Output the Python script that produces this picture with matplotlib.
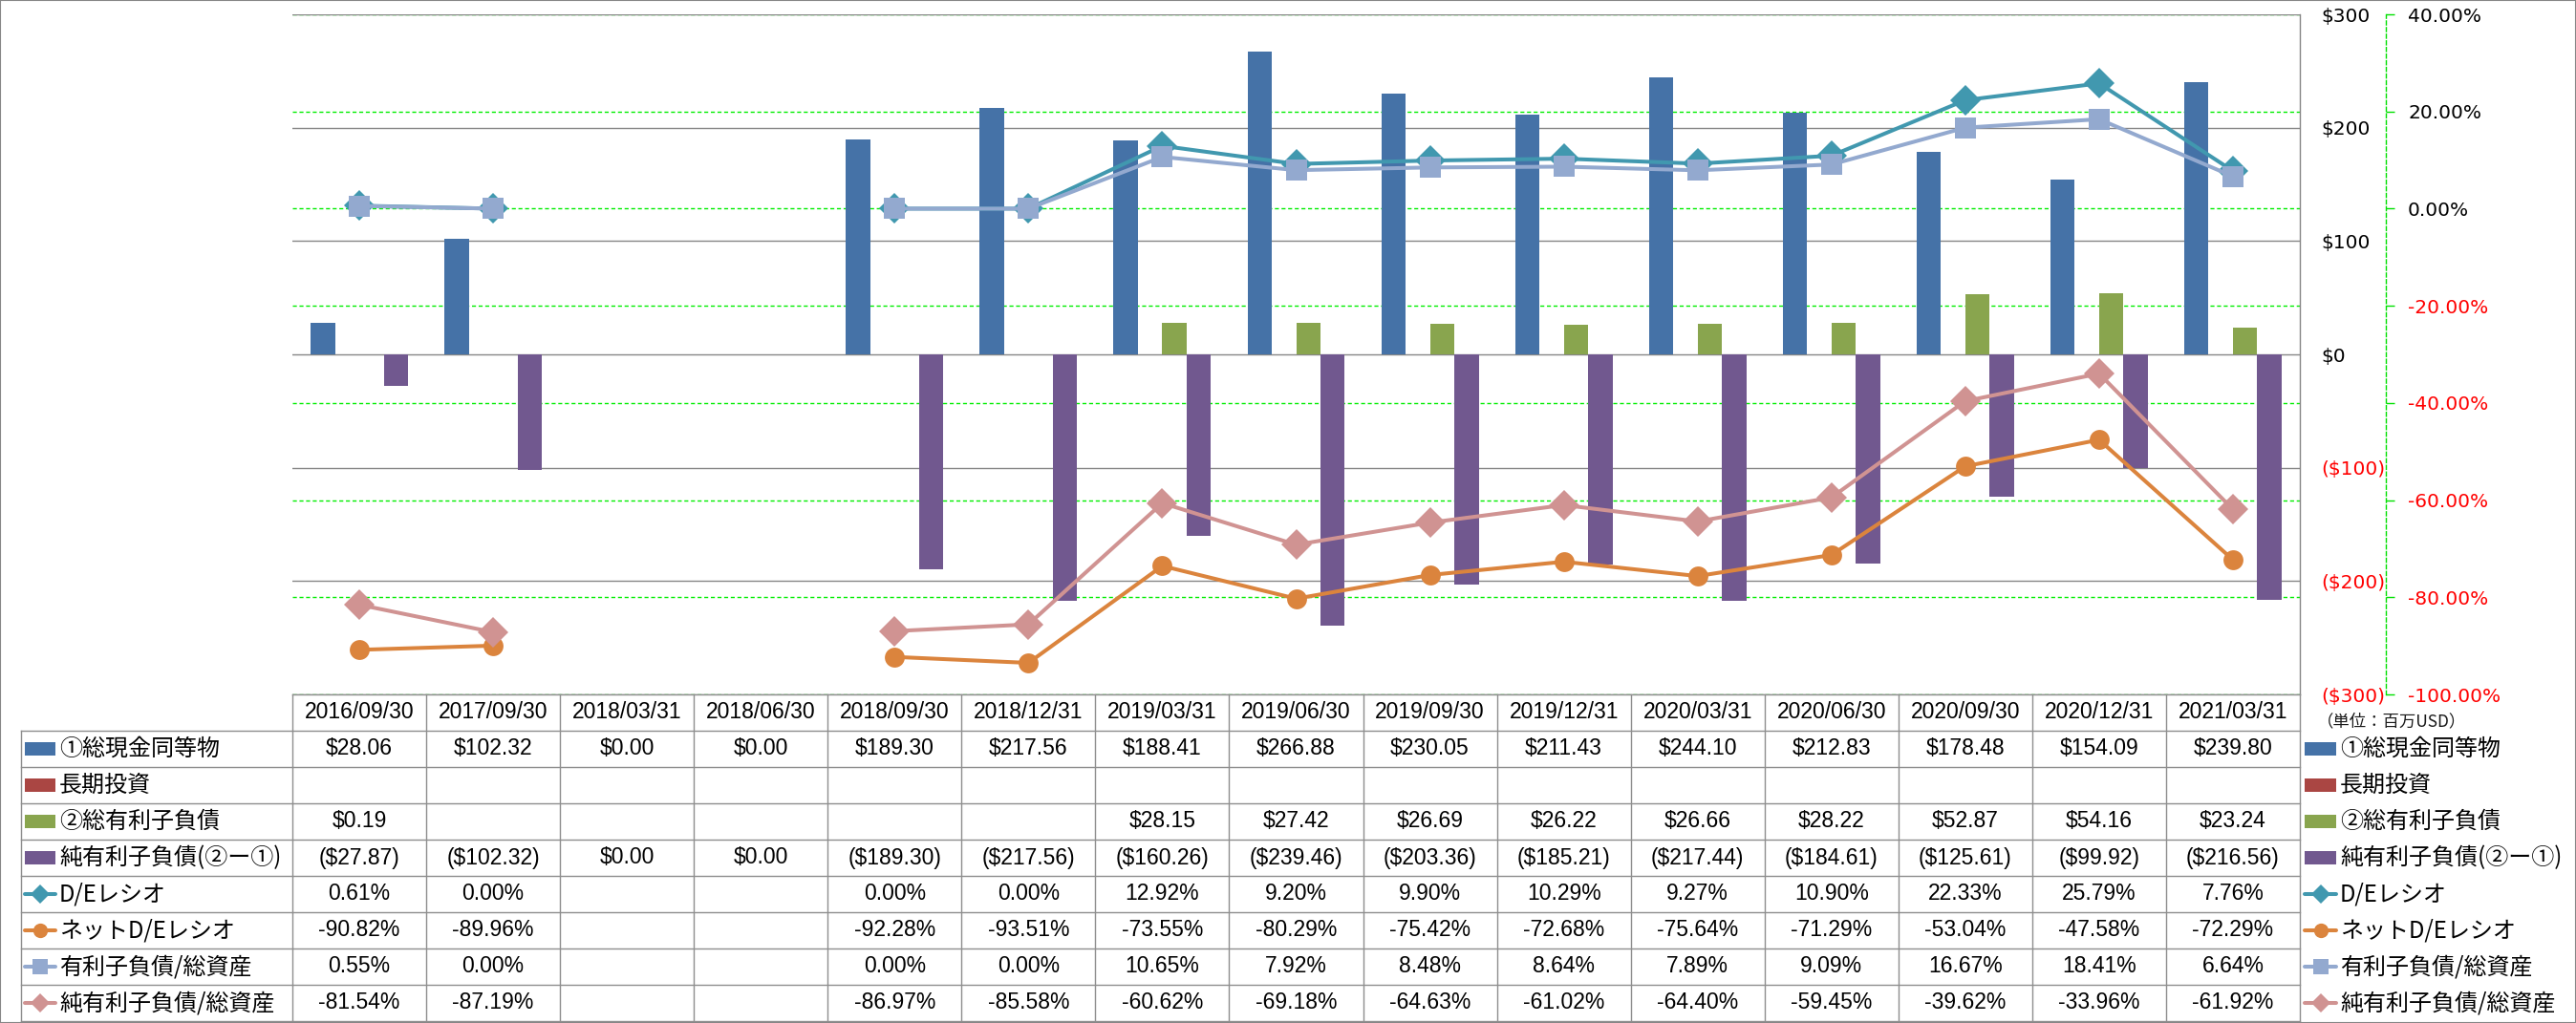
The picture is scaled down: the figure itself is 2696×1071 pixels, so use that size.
import matplotlib
matplotlib.use("Agg")
import matplotlib.pyplot as plt
import numpy as np
from matplotlib.transforms import blended_transform_factory
from matplotlib.patches import Rectangle
from matplotlib.lines import Line2D

# ---------------- data ----------------
dates = ['2016/09/30', '2017/09/30', '2018/03/31', '2018/06/30', '2018/09/30',
         '2018/12/31', '2019/03/31', '2019/06/30', '2019/09/30', '2019/12/31',
         '2020/03/31', '2020/06/30', '2020/09/30', '2020/12/31', '2021/03/31']

cash = [28.06, 102.32, 0.00, 0.00, 189.30, 217.56, 188.41, 266.88, 230.05,
        211.43, 244.10, 212.83, 178.48, 154.09, 239.80]
lt_invest = [None] * 15
debt = [0.19, None, None, None, None, None, 28.15, 27.42, 26.69, 26.22,
        26.66, 28.22, 52.87, 54.16, 23.24]
net_debt = [-27.87, -102.32, 0.00, 0.00, -189.30, -217.56, -160.26, -239.46,
            -203.36, -185.21, -217.44, -184.61, -125.61, -99.92, -216.56]

de_ratio = [0.61, 0.00, None, None, 0.00, 0.00, 12.92, 9.20, 9.90, 10.29,
            9.27, 10.90, 22.33, 25.79, 7.76]
net_de_ratio = [-90.82, -89.96, None, None, -92.28, -93.51, -73.55, -80.29,
                -75.42, -72.68, -75.64, -71.29, -53.04, -47.58, -72.29]
debt_assets = [0.55, 0.00, None, None, 0.00, 0.00, 10.65, 7.92, 8.48, 8.64,
               7.89, 9.09, 16.67, 18.41, 6.64]
net_debt_assets = [-81.54, -87.19, None, None, -86.97, -85.58, -60.62, -69.18,
                   -64.63, -61.02, -64.40, -59.45, -39.62, -33.96, -61.92]

bar_names = ['①総現金同等物', '長期投資', '②総有利子負債', '純有利子負債(②ー①)']
line_names = ['D/Eレシオ', 'ネットD/Eレシオ', '有利子負債/総資産', '純有利子負債/総資産']

usd_ticks = [300, 200, 100, 0, -100, -200, -300]
pct_ticks = [40, 20, 0, -20, -40, -60, -80, -100]
unit_label = '（単位：百万USD）'

# ---------------- styles ----------------
bar_colors = ['#4572A7', '#AA4643', '#89A54E', '#71588F']
line_colors = ['#4198AF', '#DB843D', '#93A9CF', '#D09392']
line_markers = ['D', 'o', 's', 'D']
line_ms = [16, 15, 16.5, 16]
key_ms = [10, 11, 12, 10]

W, H, DPI = 2696, 1071, 100
PT = 72.0 / DPI  # points per pixel

JP = ['Noto Sans CJK JP', 'DejaVu Sans']
NUM = ['Liberation Sans', 'Noto Sans CJK JP']
TICKF = 'DejaVu Sans'
TICK_FS = 14.5
LBL_FS = 17.3

def nz(v):
    return np.nan if v is None else v

def fmt_usd(v):
    if v is None:
        return ''
    return f'(${-v:,.2f})' if v < 0 else f'${v:,.2f}'

def fmt_pct(v):
    if v is None:
        return ''
    return f'{v:.2f}%'

def fmt_usd_tick(v):
    return f'(${-v})' if v < 0 else f'${v}'

fig = plt.figure(figsize=(W / DPI, H / DPI), dpi=DPI)
fig.patch.set_facecolor('white')

px_left, px_right, px_top, px_bot = 306, 2407, 15, 727
rect = [px_left / W, 1 - px_bot / H, (px_right - px_left) / W, (px_bot - px_top) / H]

ax = fig.add_axes(rect)
ax_g = ax.twinx()
ax2 = ax.twinx()
ax_g.set_zorder(0)
ax.set_zorder(1)
ax2.set_zorder(2)
ax.patch.set_visible(False)
ax2.patch.set_visible(False)
ax_g.patch.set_facecolor('white')

n = len(dates)
x = np.arange(n)
ax.set_xlim(-0.5, n - 0.5)

# spines first (setting spine position resets ticks)
for s in ['left', 'top', 'bottom']:
    ax.spines[s].set_visible(False)
    ax_g.spines[s].set_visible(False)
ax.spines['right'].set_color('#868686')
ax.spines['right'].set_linewidth(1.0)
ax_g.spines['right'].set_position(('outward', 90 * PT))
ax_g.spines['right'].set_color('#00E000')
ax_g.spines['right'].set_linestyle((0, (3, 2)))
ax_g.spines['right'].set_linewidth(1.0)
for s in ax2.spines.values():
    s.set_visible(False)

# ---------- primary axis (USD) ----------
ax.set_ylim(-300, 300)
ax.yaxis.tick_right()
ax.set_yticks(usd_ticks)
ax.set_yticklabels([fmt_usd_tick(v) for v in usd_ticks])
ax.tick_params(axis='y', which='both', left=False, labelleft=False, right=True,
               labelright=True, length=0, pad=22 * PT, labelsize=TICK_FS)
ax.set_xticks([])
ax.grid(axis='y', color='#868686', lw=1.0)
ax.set_axisbelow(True)

# ---------- bars ----------
bw = 0.182
series = [cash, lt_invest, debt, net_debt]
for k, (vals, c) in enumerate(zip(series, bar_colors)):
    v = np.array([nz(a) for a in vals], dtype=float)
    if np.all(np.isnan(v)):
        continue
    ax.bar(x + (k - 1.5) * bw, np.nan_to_num(v), bw, color=c, linewidth=0, zorder=3)

# ---------- secondary axis (percent) ----------
ax_g.set_ylim(-100, 40)
ax_g.set_yticks(pct_ticks)
ax_g.set_yticklabels([f'{v:.2f}%' for v in pct_ticks])
ax_g.tick_params(axis='y', length=9 * PT, width=1.0, color='#00E000',
                 pad=14 * PT, direction='out', labelsize=TICK_FS)
ax_g.grid(axis='y', color='#00EE00', lw=1.0, ls=(0, (3, 2)))
ax_g.set_xticks([])

# ---------- lines ----------
ax2.set_ylim(-100, 40)
ax2.set_yticks([])
ax2.set_xticks([])
line_series = [de_ratio, net_de_ratio, debt_assets, net_debt_assets]
for vals, c, m, ms in zip(line_series, line_colors, line_markers, line_ms):
    v = np.array([nz(a) for a in vals], dtype=float)
    ax2.plot(x, v, color=c, lw=2.9, marker=m, ms=ms, mfc=c, mec=c, mew=0,
             solid_capstyle='round', solid_joinstyle='round')

# final styling of tick labels (after all resets)
for axis_obj, vals in ((ax.yaxis, usd_ticks), (ax_g.yaxis, pct_ticks)):
    for tick, v in zip(axis_obj.get_major_ticks(), vals):
        for lab in (tick.label1, tick.label2):
            lab.set_fontsize(TICK_FS)
            lab.set_fontfamily(TICKF)
            lab.set_color('red' if v < 0 else 'black')

# ---------- data table ----------
tr = blended_transform_factory(ax.transData, fig.transFigure)
ftr = fig.transFigure
grid_c = '#8E8E8E'
row_h = 38
hdr_top = 727
nrows = 8

def fy(py):
    return 1 - py / H

def fx(px):
    return px / W

for k in range(nrows + 2):
    py = hdr_top + row_h * k
    fig.add_artist(Line2D([-0.5, n - 0.5], [fy(py), fy(py)], transform=tr,
                          color=grid_c, lw=1.0))
    if k >= 1:
        fig.add_artist(Line2D([fx(22), fx(px_left)], [fy(py), fy(py)], transform=ftr,
                              color=grid_c, lw=1.0))
for i in range(n + 1):
    fig.add_artist(Line2D([i - 0.5, i - 0.5], [fy(hdr_top), fy(hdr_top + row_h * (nrows + 1))],
                          transform=tr, color=grid_c, lw=1.0))
fig.add_artist(Line2D([fx(22), fx(22)], [fy(hdr_top + row_h), fy(hdr_top + row_h * (nrows + 1))],
                      transform=ftr, color=grid_c, lw=1.0))

for i, d in enumerate(dates):
    fig.text(i, fy(hdr_top + row_h / 2), d, transform=tr, ha='center', va='center',
             fontsize=16.5, fontfamily=NUM)

rows = [(bar_names[0], [fmt_usd(v) for v in cash], ('bar', bar_colors[0])),
        (bar_names[1], [fmt_usd(v) for v in lt_invest], ('bar', bar_colors[1])),
        (bar_names[2], [fmt_usd(v) for v in debt], ('bar', bar_colors[2])),
        (bar_names[3], [fmt_usd(v) for v in net_debt], ('bar', bar_colors[3]))]
for j in range(4):
    rows.append((line_names[j], [fmt_pct(v) for v in line_series[j]],
                 ('line', line_colors[j], line_markers[j], key_ms[j])))

def draw_key(x0, x1, yc, spec):
    if spec[0] == 'bar':
        fig.add_artist(Rectangle((fx(x0), fy(yc + 7)), (x1 - x0) / W, 14 / H,
                                 transform=ftr, color=spec[1], lw=0))
    else:
        _, c, m, ms = spec
        fig.add_artist(Line2D([fx(x0), fx(x1)], [fy(yc), fy(yc)], transform=ftr,
                              color=c, lw=2.9, solid_capstyle='round'))
        fig.add_artist(Line2D([fx((x0 + x1) / 2)], [fy(yc)], transform=ftr, color=c,
                              marker=m, ms=ms, mec=c, mfc=c, mew=0, lw=0))

for r, (name, vals, spec) in enumerate(rows):
    yc = hdr_top + row_h * (r + 1) + row_h / 2
    draw_key(26, 58, yc, spec)
    fig.text(fx(62), fy(yc), name, transform=ftr, ha='left', va='center',
             fontsize=LBL_FS, fontfamily=JP)
    for i, s in enumerate(vals):
        if s:
            fig.text(i, fy(yc), s, transform=tr, ha='center', va='center',
                     fontsize=16.5, fontfamily=NUM)
    draw_key(2412, 2445, yc, spec)
    fig.text(fx(2449), fy(yc), name, transform=ftr, ha='left', va='center',
             fontsize=LBL_FS, fontfamily=JP)

fig.text(fx(2425), fy(755), unit_label, transform=ftr, ha='left', va='center',
         fontsize=12.5, fontfamily=JP, color='#1a1a1a')

fig.add_artist(Rectangle((0, 0), 1, 1, transform=ftr, fill=False,
                         ec='#868686', lw=1.5))

fig.savefig('out.png', dpi=DPI, facecolor='white')
